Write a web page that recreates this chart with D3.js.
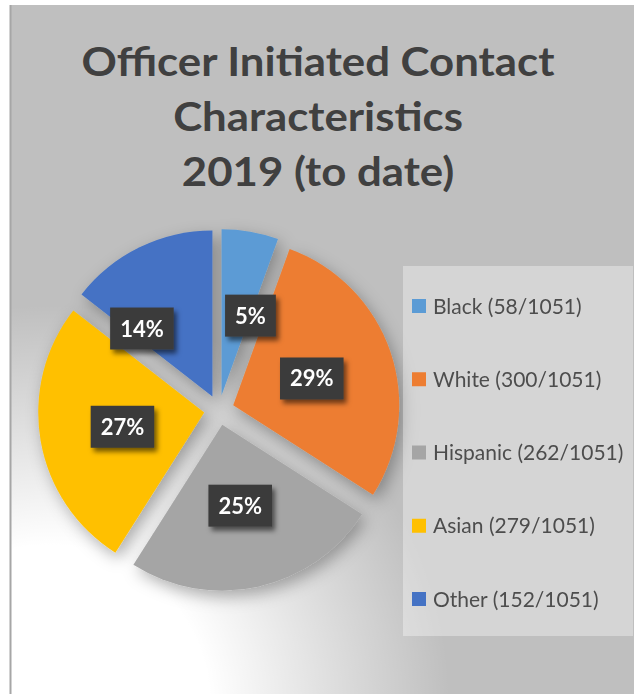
<!DOCTYPE html>
<html>
<head>
<meta charset="utf-8">
<script src="https://cdn.jsdelivr.net/npm/d3@7"></script>
<style>
  html, body { margin: 0; padding: 0; background: #fff; }
  svg { display: block; }
</style>
</head>
<body>
<div id="chart"></div>
<script>
// Data
const categories = ["Black", "White", "Hispanic", "Asian", "Other"];
const counts = [58, 300, 262, 279, 152];
const total = 1051;
const pctLabels = [5, 29, 25, 27, 14]; // as printed on the slices
const colors = ["#5b9bd5", "#ed7d31", "#a5a5a5", "#ffc000", "#4472c4"];
const titleLines = ["Officer Initiated Contact", "Characteristics", "2019 (to date)"];

const W = 636, H = 694;
const frame = { x: 10, y: 5, w: 624, h: 700 };
const cx = 219, cy = 410, radius = 166, explode = 15;

// label placement tweaks (Excel "best fit" moves small slice labels)
const labelAdjust = { Black: { da: 10, k: 0.51 }, Other: { da: -20, k: 0.59 } };

const svg = d3.select("#chart").append("svg")
  .attr("width", W).attr("height", H);

const defs = svg.append("defs");

const glow = defs.append("radialGradient")
  .attr("id", "bgGlow")
  .attr("gradientUnits", "userSpaceOnUse")
  .attr("cx", 50).attr("cy", 705).attr("r", 400);
glow.append("stop").attr("offset", "0%").attr("stop-color", "#fff").attr("stop-opacity", 1);
glow.append("stop").attr("offset", "40%").attr("stop-color", "#fff").attr("stop-opacity", 1);
glow.append("stop").attr("offset", "100%").attr("stop-color", "#fff").attr("stop-opacity", 0);

const pieShadow = defs.append("filter").attr("id", "pieShadow")
  .attr("x", "-30%").attr("y", "-30%").attr("width", "160%").attr("height", "160%");
pieShadow.append("feDropShadow")
  .attr("dx", 4).attr("dy", 6).attr("stdDeviation", 8)
  .attr("flood-color", "#000").attr("flood-opacity", 0.3);

const boxShadow = defs.append("filter").attr("id", "boxShadow")
  .attr("x", "-30%").attr("y", "-30%").attr("width", "170%").attr("height", "170%");
boxShadow.append("feDropShadow")
  .attr("dx", 3).attr("dy", 4).attr("stdDeviation", 2.5)
  .attr("flood-color", "#000").attr("flood-opacity", 0.55);

// Frame + background
svg.append("rect")
  .attr("x", frame.x).attr("y", frame.y)
  .attr("width", frame.w).attr("height", frame.h)
  .attr("fill", "#bfbfbf");
svg.append("rect")
  .attr("x", frame.x).attr("y", frame.y)
  .attr("width", frame.w).attr("height", frame.h)
  .attr("fill", "url(#bgGlow)");
svg.append("line")
  .attr("x1", frame.x + 0.5).attr("x2", frame.x + 0.5)
  .attr("y1", frame.y).attr("y2", H)
  .attr("stroke", "#a6a6a6").attr("stroke-width", 2);

// Title
const title = svg.append("g").attr("class", "title");
const titleText = title.selectAll("text")
  .data(titleLines).join("text")
  .attr("x", 0)
  .attr("y", (d, i) => 76 + i * 55)
  .attr("text-anchor", "middle")
  .attr("font-family", "Lato, 'Open Sans', sans-serif")
  .attr("font-weight", 700)
  .attr("font-size", 41)
  .attr("fill", "#404040")
  .text(d => d);
const w0 = titleText.node().getComputedTextLength();
title.attr("transform", `translate(318,0) scale(${473 / w0},1)`);

// Pie
const pie = d3.pie().sort(null).value(d => d.value);
const arcs = pie(categories.map((c, i) => ({
  name: c, value: counts[i], pct: pctLabels[i], color: colors[i]
})));
const arc = d3.arc().innerRadius(0).outerRadius(radius);

const offset = (a, dist) => {
  const m = (a.startAngle + a.endAngle) / 2;
  return [Math.sin(m) * dist, -Math.cos(m) * dist];
};

const gPie = svg.append("g")
  .attr("transform", `translate(${cx},${cy})`)
  .attr("filter", "url(#pieShadow)");

gPie.selectAll("path")
  .data(arcs).join("path")
  .attr("transform", d => `translate(${offset(d, explode)})`)
  .attr("d", arc)
  .attr("fill", d => d.data.color);

// Data labels
const gLab = svg.append("g").attr("transform", `translate(${cx},${cy})`);
const labels = gLab.selectAll("g.lab")
  .data(arcs).join("g").attr("class", "lab")
  .attr("transform", d => {
    const adj = labelAdjust[d.data.name] || { da: 0, k: 0.5 };
    const [ox, oy] = offset(d, explode);
    const m = (d.startAngle + d.endAngle) / 2 + adj.da * Math.PI / 180;
    const r = radius * adj.k;
    return `translate(${ox + Math.sin(m) * r},${oy - Math.cos(m) * r})`;
  });

labels.each(function (d) {
  const g = d3.select(this);
  const rect = g.append("rect").attr("fill", "#3b3b3b").attr("filter", "url(#boxShadow)");
  const t = g.append("text")
    .attr("text-anchor", "middle")
    .attr("y", 8)
    .attr("font-family", "Lato, 'Open Sans', sans-serif")
    .attr("font-weight", 700)
    .attr("font-size", 22)
    .attr("fill", "#fff")
    .text(d.data.pct + "%");
  const tw = t.node().getComputedTextLength();
  const bw = tw + 20, bh = 42;
  rect.attr("x", -bw / 2).attr("y", -bh / 2).attr("width", bw).attr("height", bh);
});

// Legend
const legend = svg.append("g").attr("transform", "translate(403,266)");
legend.append("rect")
  .attr("width", 230).attr("height", 370)
  .attr("fill", "#fff").attr("fill-opacity", 0.35);

const ly = d3.scalePoint().domain(categories).range([40, 333]);

const items = legend.selectAll("g.item")
  .data(categories).join("g").attr("class", "item")
  .attr("transform", d => `translate(0,${ly(d)})`);

items.append("rect")
  .attr("x", 9).attr("y", -7)
  .attr("width", 14).attr("height", 14)
  .attr("fill", (d, i) => colors[i]);

items.append("text")
  .attr("x", 30).attr("y", 7.5)
  .attr("font-family", "Lato, 'Open Sans', sans-serif")
  .attr("font-size", 21)
  .attr("fill", "#4d4d4d")
  .text((d, i) => `${d} (${counts[i]}/${total})`);
</script>
</body>
</html>
